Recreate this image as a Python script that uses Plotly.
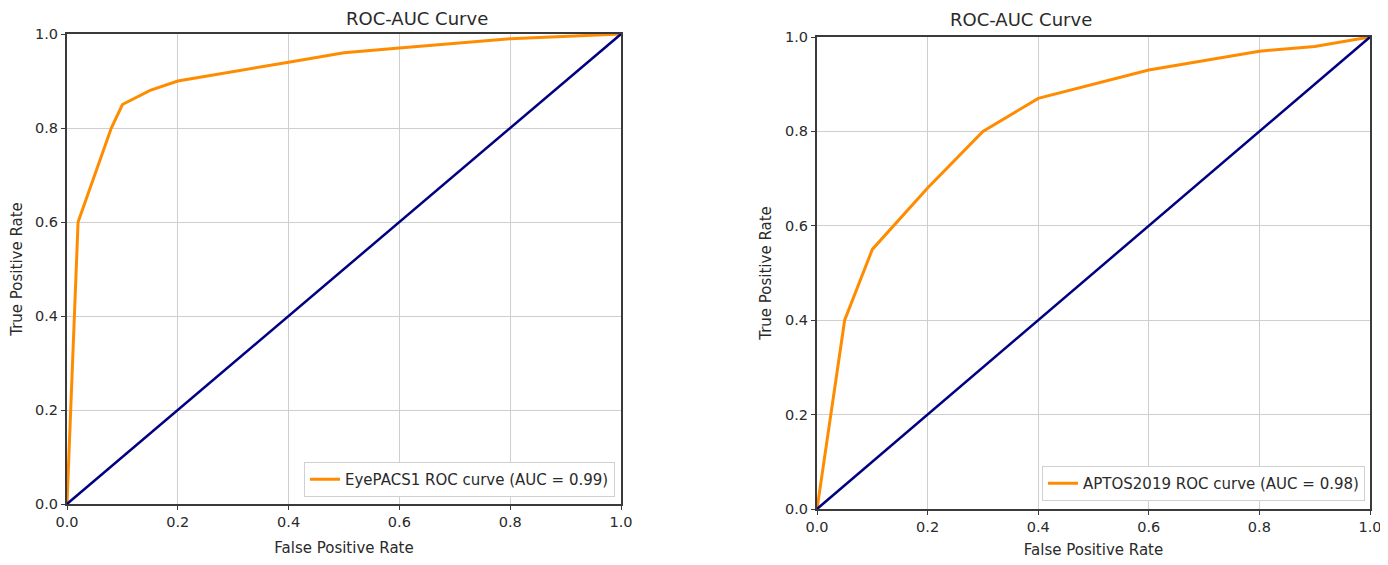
import plotly.graph_objects as go

# EyePACS1 ROC curve (left panel)
eyepacs_fpr = [0.0, 0.02, 0.08, 0.10, 0.15, 0.20, 0.40, 0.50, 0.60, 0.80, 1.0]
eyepacs_tpr = [0.0, 0.60, 0.80, 0.85, 0.88, 0.90, 0.94, 0.96, 0.97, 0.99, 1.0]

# APTOS2019 ROC curve (right panel)
aptos_fpr = [0.0, 0.05, 0.10, 0.20, 0.30, 0.40, 0.60, 0.80, 0.90, 1.0]
aptos_tpr = [0.0, 0.40, 0.55, 0.68, 0.80, 0.87, 0.93, 0.97, 0.98, 1.0]

# chance line
chance_x = [0.0, 1.0]
chance_y = [0.0, 1.0]

tick_vals = [0.0, 0.2, 0.4, 0.6, 0.8, 1.0]
tick_text = ['0.0', '0.2', '0.4', '0.6', '0.8', '1.0']

W, H = 1388, 565
OFF = 8  # page body margin, screen px = figure px + OFF
FONT = 'DejaVu Sans'
ORANGE = '#ff8c00'
NAVY = '#000080'
TXT = '#2a2a2a'

fig = go.Figure()

fig.add_trace(go.Scatter(x=eyepacs_fpr, y=eyepacs_tpr, mode='lines',
                         line=dict(color=ORANGE, width=3),
                         name='EyePACS1 ROC curve (AUC = 0.99)',
                         xaxis='x', yaxis='y', legend='legend'))
fig.add_trace(go.Scatter(x=chance_x, y=chance_y, mode='lines',
                         line=dict(color=NAVY, width=2.5),
                         showlegend=False, xaxis='x', yaxis='y'))

fig.add_trace(go.Scatter(x=aptos_fpr, y=aptos_tpr, mode='lines',
                         line=dict(color=ORANGE, width=3),
                         name='APTOS2019 ROC curve (AUC = 0.98)',
                         xaxis='x2', yaxis='y2', legend='legend2'))
fig.add_trace(go.Scatter(x=chance_x, y=chance_y, mode='lines',
                         line=dict(color=NAVY, width=2.5),
                         showlegend=False, xaxis='x2', yaxis='y2'))


def axis(domain, anchor, title, standoff):
    return dict(domain=domain, anchor=anchor, range=[0, 1],
                tickvals=tick_vals, ticktext=tick_text, automargin=False,
                showgrid=True, gridcolor='#cfcfcf', gridwidth=1.2,
                zeroline=False, showline=True, linecolor='#3a3a3a', linewidth=2,
                mirror=True, ticks='outside', ticklen=4, tickcolor='#3a3a3a',
                tickfont=dict(size=14.5, color=TXT),
                title=dict(text=title, font=dict(size=15, color=TXT), standoff=standoff))


# panel boxes in screen pixels (left, right, top, bottom)
left_px = (67, 621, 34, 504)
right_px = (817, 1370, 37, 509)


def xdom(p):
    return [(p[0] - OFF) / W, (p[1] - OFF) / W]


def ydom(p):
    return [1 - (p[3] - OFF) / H, 1 - (p[2] - OFF) / H]


fig.update_layout(
    width=W, height=H,
    margin=dict(l=0, r=0, t=0, b=0),
    paper_bgcolor='white', plot_bgcolor='white',
    font=dict(family=FONT, color=TXT),
    xaxis=axis(xdom(left_px), 'y', 'False Positive Rate', 13),
    yaxis=axis(ydom(left_px), 'x', 'True Positive Rate', 10),
    xaxis2=axis(xdom(right_px), 'y2', 'False Positive Rate', 10),
    yaxis2=axis(ydom(right_px), 'x2', 'True Positive Rate', 10),
    legend=dict(x=(615 - OFF) / W, y=1 - (497 - OFF) / H, xanchor='right', yanchor='bottom',
                bgcolor='white', bordercolor='#d0d0d0', borderwidth=1,
                font=dict(size=15, color=TXT)),
    legend2=dict(x=(1365 - OFF) / W, y=1 - (501 - OFF) / H, xanchor='right', yanchor='bottom',
                 bgcolor='white', bordercolor='#d0d0d0', borderwidth=1,
                 font=dict(size=15, color=TXT)),
    annotations=[
        dict(text='ROC-AUC Curve', x=((67 + 621) / 2 - OFF) / W, y=1 - (19 - OFF) / H,
             xref='paper', yref='paper', yanchor='middle', showarrow=False,
             font=dict(size=18, color=TXT)),
        dict(text='ROC-AUC Curve', x=((817 + 1370) / 2 - OFF) / W, y=1 - (20 - OFF) / H,
             xref='paper', yref='paper', yanchor='middle', showarrow=False,
             font=dict(size=18, color=TXT)),
    ],
)

fig.write_html("out.html")
